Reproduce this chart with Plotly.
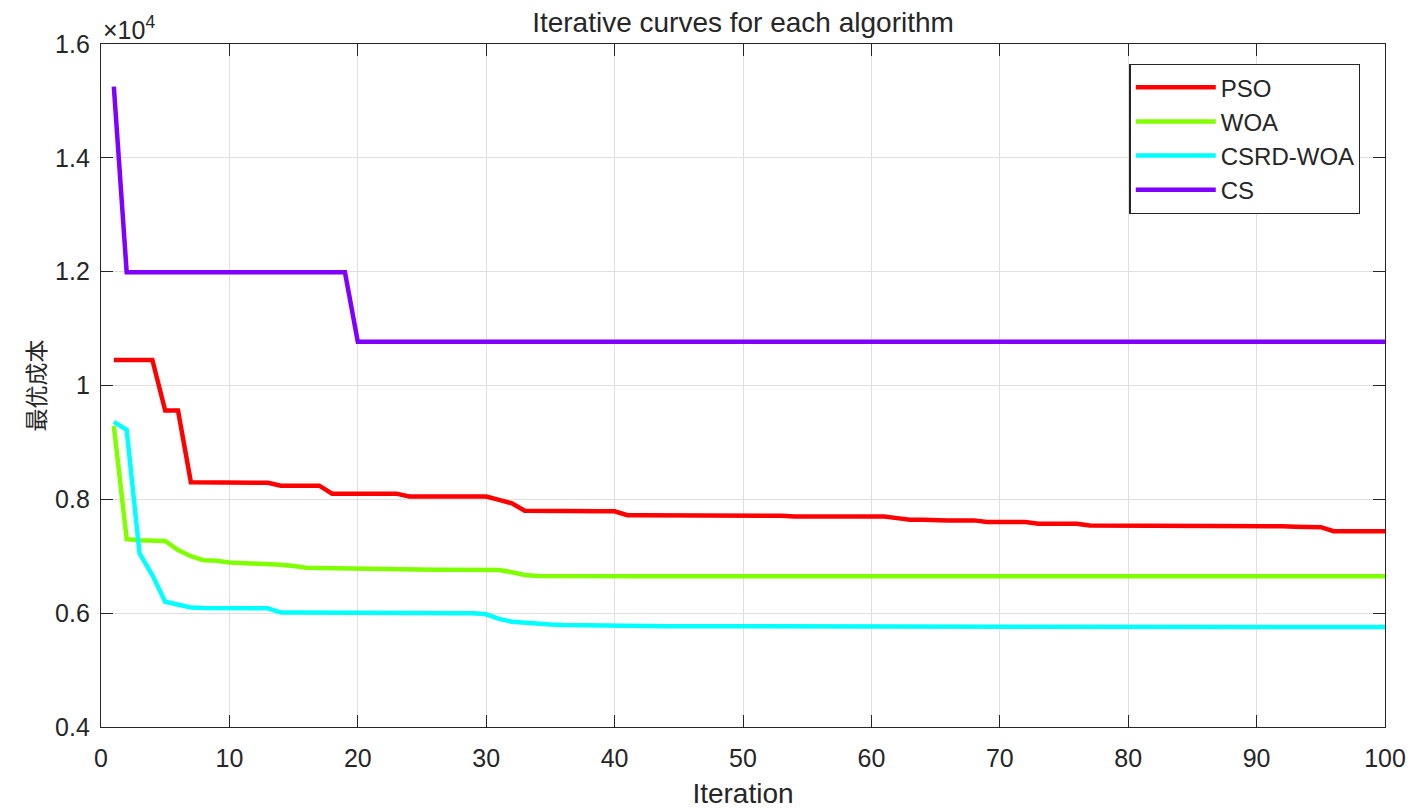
import plotly.graph_objects as go

iterations = list(range(1, 101))

pso = [10450, 10450, 10450, 10450, 9560, 9560, 8300, 8300, 8300, 8290,
       8290, 8290, 8290, 8240, 8240, 8240, 8240, 8100, 8100, 8100,
       8100, 8100, 8100, 8050, 8050, 8050, 8050, 8050, 8050, 8050,
       7990, 7930, 7800, 7795, 7795, 7790, 7790, 7790, 7790, 7790,
       7720, 7720, 7720, 7720, 7720, 7720, 7720, 7710, 7710, 7710,
       7710, 7710, 7710, 7700, 7700, 7700, 7700, 7700, 7700, 7700,
       7700, 7670, 7640, 7640, 7630, 7630, 7630, 7630, 7600, 7600,
       7600, 7600, 7570, 7570, 7570, 7570, 7540, 7540, 7540, 7540,
       7540, 7525, 7525, 7525, 7525, 7525, 7525, 7525, 7525, 7525,
       7525, 7525, 7520, 7520, 7510, 7440, 7440, 7440, 7440, 7440]

woa = [9290, 7300, 7280, 7280, 7270, 7110, 7000, 6930, 6920, 6890,
       6880, 6875, 6870, 6850, 6830, 6800, 6795, 6790, 6780, 6775,
       6770, 6770, 6770, 6768, 6766, 6765, 6764, 6762, 6760, 6760,
       6760, 6720, 6670, 6655, 6652, 6650, 6650, 6650, 6650, 6650,
       6650, 6650, 6650, 6650, 6650, 6650, 6650, 6650, 6650, 6650,
       6650, 6650, 6650, 6650, 6650, 6650, 6650, 6650, 6650, 6650,
       6650, 6650, 6650, 6650, 6650, 6650, 6650, 6650, 6650, 6650,
       6650, 6650, 6650, 6650, 6650, 6650, 6650, 6650, 6650, 6650,
       6650, 6650, 6650, 6650, 6650, 6650, 6650, 6650, 6650, 6650,
       6650, 6650, 6650, 6650, 6650, 6650, 6650, 6650, 6650, 6650]

csrd_woa = [9360, 9220, 7050, 6670, 6200, 6150, 6100, 6090, 6085, 6085,
            6085, 6085, 6085, 6010, 6010, 6010, 6010, 6010, 6010, 6010,
            6010, 6005, 6005, 6005, 6005, 6005, 6005, 6005, 6000, 5980,
            5900, 5850, 5830, 5820, 5800, 5790, 5785, 5785, 5785, 5780,
            5770, 5770, 5770, 5770, 5770, 5770, 5770, 5770, 5770, 5770,
            5770, 5770, 5770, 5770, 5770, 5770, 5770, 5770, 5770, 5770,
            5770, 5770, 5770, 5770, 5770, 5770, 5770, 5770, 5770, 5770,
            5765, 5762, 5760, 5758, 5755, 5755, 5755, 5755, 5755, 5755,
            5755, 5755, 5755, 5755, 5755, 5755, 5755, 5755, 5755, 5755,
            5755, 5755, 5755, 5755, 5755, 5755, 5755, 5755, 5755, 5755]

cs = [15250] + [11990] * 18 + [10770] * 81

series_names = ["PSO", "WOA", "CSRD-WOA", "CS"]
series_values = [pso, woa, csrd_woa, cs]
series_colors = ["#FF0000", "#80FF00", "#00FFFF", "#7F00FF"]

x_tick_vals = [0, 10, 20, 30, 40, 50, 60, 70, 80, 90, 100]
y_tick_vals = [4000, 6000, 8000, 10000, 12000, 14000, 16000]
y_tick_text = ["0.4", "0.6", "0.8", "1", "1.2", "1.4", "1.6"]

FONT = "Liberation Sans, Arial, sans-serif"
INK = "#262626"

fig = go.Figure()
for name, vals, col in zip(series_names, series_values, series_colors):
    fig.add_trace(go.Scatter(x=iterations, y=vals, mode="lines", name=name,
                             line=dict(color=col, width=4.5)))

axis_common = dict(
    showline=True, linecolor=INK, linewidth=1.3, mirror="allticks",
    ticks="inside", ticklen=12, tickwidth=1.3, tickcolor=INK,
    showgrid=True, gridcolor="#DFDFDF", gridwidth=1, zeroline=False,
    automargin=False,
    tickfont=dict(family=FONT, size=25, color=INK),
)

fig.update_layout(
    width=1408, height=801,
    margin=dict(l=93, r=31, t=36, b=82),
    paper_bgcolor="white", plot_bgcolor="white",
    title=dict(text="Iterative curves for each algorithm", x=0.5, xanchor="center",
               xref="paper", y=0.982, yanchor="middle",
               font=dict(family=FONT, size=28, color=INK)),
    xaxis=dict(range=[0, 100], tickvals=x_tick_vals, ticklabelstandoff=9,
               title=dict(text="Iteration", standoff=16,
                          font=dict(family=FONT, size=28, color=INK)),
               **axis_common),
    yaxis=dict(range=[4000, 16000], tickvals=y_tick_vals, ticktext=y_tick_text,
               ticklabelstandoff=5,
               title=dict(text="最优成本", standoff=3,
                          font=dict(family="Noto Sans CJK SC", size=23, color=INK)),
               **axis_common),
    legend=dict(x=0.801, y=0.971, xanchor="left", yanchor="top",
                bordercolor=INK, borderwidth=1.3, bgcolor="white",
                font=dict(family=FONT, size=24, color=INK),
                itemwidth=80, tracegroupgap=0),
    showlegend=True,
)

fig.add_annotation(text="×10<sup>4</sup>", xref="paper", yref="paper",
                   x=0, y=1.0, xanchor="left", yanchor="bottom", showarrow=False,
                   yshift=-2,
                   font=dict(family=FONT, size=25, color=INK))

fig.write_html("out.html")
